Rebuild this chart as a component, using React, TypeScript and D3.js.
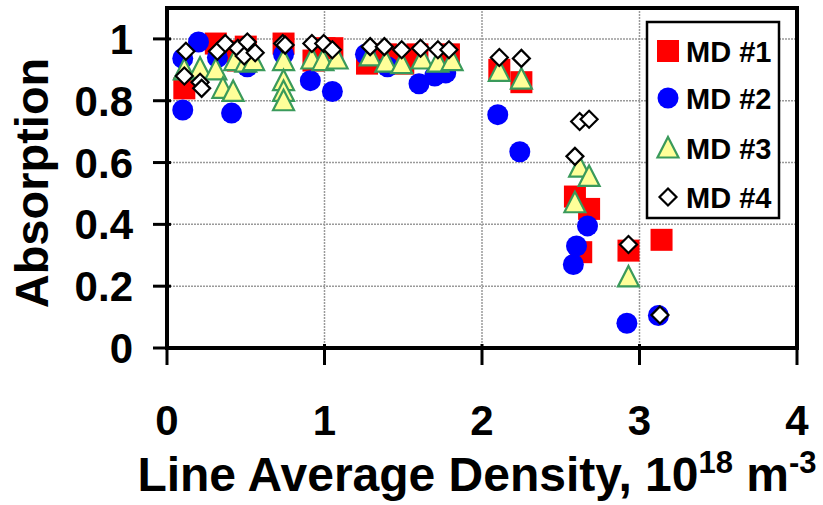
import React from 'react';
import * as d3 from 'd3';

// Absorption vs line average density, four detectors (MD #1 .. MD #4)
const md1X = [0.11, 0.31, 0.37, 0.45, 0.5, 0.74, 0.93, 1.0, 1.05, 1.27, 1.39, 1.5, 1.59, 1.79, 2.11, 2.25, 2.59, 2.68, 2.63, 2.93, 3.14];
const md1Y = [0.84, 0.985, 0.96, 0.93, 0.975, 0.985, 0.93, 0.97, 0.97, 0.92, 0.95, 0.92, 0.95, 0.95, 0.9, 0.86, 0.49, 0.45, 0.31, 0.315, 0.35];

const md2X = [0.1, 0.2, 0.1, 0.41, 0.51, 0.32, 0.74, 0.91, 1.05, 1.26, 1.4, 1.6, 1.7, 1.77, 2.1, 2.24, 2.67, 2.6, 2.58, 2.92, 3.12];
const md2Y = [0.937, 0.99, 0.77, 0.76, 0.91, 0.94, 0.95, 0.865, 0.83, 0.95, 0.91, 0.855, 0.88, 0.89, 0.755, 0.635, 0.395, 0.33, 0.27, 0.08, 0.105];

const md3X = [0.11, 0.21, 0.31, 0.355, 0.42, 0.43, 0.5, 0.55, 0.74, 0.74, 0.74, 0.74, 0.92, 0.99, 1.08, 1.29, 1.39, 1.49, 1.62, 1.72, 1.81, 2.11, 2.25, 2.62, 2.68, 2.59, 2.93];
const md3Y = [0.9, 0.905, 0.9, 0.84, 0.83, 0.93, 0.925, 0.93, 0.93, 0.865, 0.83, 0.8, 0.935, 0.93, 0.935, 0.945, 0.925, 0.92, 0.935, 0.925, 0.93, 0.895, 0.87, 0.585, 0.555, 0.47, 0.23];

const md4X = [0.12, 0.11, 0.21, 0.22, 0.32, 0.37, 0.45, 0.51, 0.49, 0.56, 0.735, 0.75, 0.92, 0.995, 1.05, 1.29, 1.38, 1.49, 1.61, 1.72, 1.79, 2.11, 2.25, 2.62, 2.68, 2.59, 2.93, 3.13];
const md4Y = [0.96, 0.88, 0.86, 0.84, 0.96, 0.985, 0.97, 0.99, 0.945, 0.955, 0.985, 0.98, 0.985, 0.985, 0.965, 0.975, 0.975, 0.965, 0.97, 0.965, 0.965, 0.94, 0.937, 0.733, 0.74, 0.62, 0.335, 0.107];

const seriesNames = ['MD #1', 'MD #2', 'MD #3', 'MD #4'];
const xTicks = [0, 1, 2, 3, 4];
const yTicks = [0, 0.2, 0.4, 0.6, 0.8, 1];

const W = 823;
const H = 505;
const margin = { top: 8, right: 26, bottom: 157, left: 167 };
const font = "'Liberation Sans', Arial, sans-serif";

function zip(xs: number[], ys: number[]) {
  return xs.map((x, i) => ({ x, y: ys[i] }));
}

function Marker({ kind, cx, cy }: { kind: number; cx: number; cy: number }) {
  if (kind === 0) {
    return <rect x={cx - 11} y={cy - 11} width={22} height={22} fill="#ff0000" />;
  }
  if (kind === 1) {
    return <circle cx={cx} cy={cy} r={10.5} fill="#0000ff" />;
  }
  if (kind === 2) {
    const p = d3.path();
    p.moveTo(cx, cy - 11);
    p.lineTo(cx + 10.5, cy + 9.5);
    p.lineTo(cx - 10.5, cy + 9.5);
    p.closePath();
    return <path d={p.toString()} fill="#ffff99" stroke="#3a9a5b" strokeWidth={2.2} strokeLinejoin="miter" />;
  }
  const s = 8.5;
  const p = d3.path();
  p.moveTo(cx, cy - s);
  p.lineTo(cx + s, cy);
  p.lineTo(cx, cy + s);
  p.lineTo(cx - s, cy);
  p.closePath();
  return <path d={p.toString()} fill="#ffffff" stroke="#000000" strokeWidth={2.2} />;
}

export default function App() {
  const x = d3.scaleLinear().domain([0, 4]).range([margin.left, W - margin.right]);
  const y = d3.scaleLinear().domain([0, 1.1]).range([H - margin.bottom, margin.top]);

  const series = [zip(md1X, md1Y), zip(md2X, md2Y), zip(md3X, md3Y), zip(md4X, md4Y)];

  const x0 = x(0);
  const x1 = x(4);
  const yb = y(0);
  const yt = y(1.1);

  const legend = { x: 647, y: 22, w: 132, h: 196 };
  const legendRows = [51, 98, 148, 197];

  return (
    <svg width={W} height={H} style={{ position: 'absolute', left: 0, top: 0, background: '#fff' }}>
      <rect x={0} y={0} width={W} height={H} fill="#ffffff" />

      {/* gridlines */}
      {yTicks.filter((t) => t > 0).map((t) => (
        <line key={'gy' + t} x1={x0} x2={x1} y1={y(t)} y2={y(t)} stroke="#9a9a9a" strokeWidth={1.5} strokeDasharray="2,1" />
      ))}
      {xTicks.filter((t) => t > 0 && t < 4).map((t) => (
        <line key={'gx' + t} x1={x(t)} x2={x(t)} y1={yt} y2={yb} stroke="#9a9a9a" strokeWidth={1.5} strokeDasharray="2,1" />
      ))}

      {/* points */}
      {series.map((pts, k) => (
        <g key={'s' + k}>
          {pts.map((d, i) => (
            <Marker key={i} kind={k} cx={x(d.x)} cy={y(d.y)} />
          ))}
        </g>
      ))}

      {/* frame */}
      <rect x={x0} y={yt} width={x1 - x0} height={yb - yt} fill="none" stroke="#000" strokeWidth={4} />

      {/* y axis ticks + labels */}
      {yTicks.map((t) => (
        <g key={'yt' + t}>
          <line x1={x0 - 14} x2={x0 + 4} y1={y(t)} y2={y(t)} stroke="#000" strokeWidth={3} />
          <text x={133} y={y(t)} dy="0.36em" textAnchor="end" fontFamily={font} fontWeight="bold" fontSize={42} fill="#000">
            {d3.format('')(t)}
          </text>
        </g>
      ))}

      {/* x axis ticks + labels */}
      {xTicks.map((t) => (
        <g key={'xt' + t}>
          <line x1={x(t)} x2={x(t)} y1={yb - 4} y2={yb + 17} stroke="#000" strokeWidth={3} />
          <text x={x(t)} y={435} textAnchor="middle" fontFamily={font} fontWeight="bold" fontSize={42} fill="#000">
            {t}
          </text>
        </g>
      ))}

      {/* axis titles */}
      <text x={477} y={491} textAnchor="middle" fontFamily={font} fontWeight="bold" fontSize={48} fill="#000">
        Line Average Density, 10
        <tspan fontSize={31} dy={-18}>18</tspan>
        <tspan dy={18}> m</tspan>
        <tspan fontSize={31} dy={-18}>-3</tspan>
      </text>
      <text
        transform={`translate(48, ${(yb + yt) / 2 + 5}) rotate(-90)`}
        textAnchor="middle"
        fontFamily={font}
        fontWeight="bold"
        fontSize={47}
        fill="#000"
      >
        Absorption
      </text>

      {/* legend */}
      <rect x={legend.x} y={legend.y} width={legend.w} height={legend.h} fill="#fff" stroke="#000" strokeWidth={2.5} />
      {seriesNames.map((name, k) => (
        <g key={name}>
          <Marker kind={k} cx={668} cy={legendRows[k]} />
          <text x={686} y={legendRows[k] + 10.5} fontFamily={font} fontWeight="bold" fontSize={29} fill="#000">
            {name}
          </text>
        </g>
      ))}
    </svg>
  );
}
